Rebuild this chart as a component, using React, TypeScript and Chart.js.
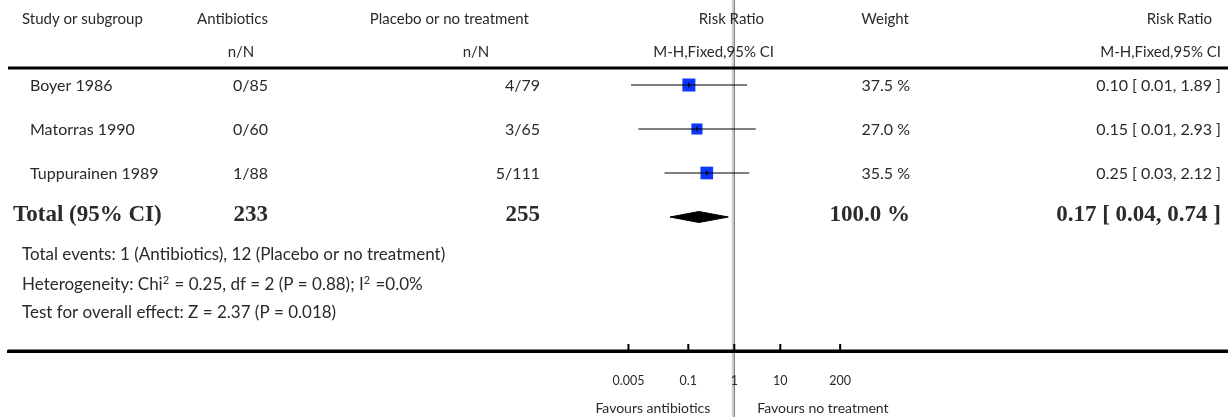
import React, { useEffect, useRef } from 'react';
import { Chart, registerables } from 'chart.js';

Chart.register(...registerables);

// ---------------- data ----------------
const studies = ['Boyer 1986', 'Matorras 1990', 'Tuppurainen 1989'];
const antibioticsEvents = ['0/85', '0/60', '1/88'];
const placeboEvents = ['4/79', '3/65', '5/111'];
const weights = [37.5, 27.0, 35.5];
const riskRatios = [0.103, 0.154, 0.252];
const ciLower = [0.0057, 0.0082, 0.0303];
const ciUpper = [1.89, 2.93, 2.12];

const totalLabel = 'Total (95% CI)';
const totalAntibiotics = 233;
const totalPlacebo = 255;
const totalWeight = 100.0;
const totalRR = 0.17;
const totalLower = 0.04;
const totalUpper = 0.74;

const tickValues = [0.005, 0.1, 1, 10, 200];
const tickLabels = ['0.005', '0.1', '1', '10', '200'];
const favoursLeft = 'Favours antibiotics';
const favoursRight = 'Favours no treatment';

const totalEventsText = 'Total events: 1 (Antibiotics), 12 (Placebo or no treatment)';
const heterogeneityParts = ['Heterogeneity: Chi', '2', ' = 0.25, df = 2 (P = 0.88); I', '2', ' =0.0%'];
const overallEffectText = 'Test for overall effect: Z = 2.37 (P = 0.018)';

// ---------------- layout ----------------
const W = 1228;
const H = 417;
const AREA_LEFT = 8;
const AXIS_Y = 351;
const NULL_X = 734.3;
const DECADE_PX = 46;
const X_MIN = Math.pow(10, -(NULL_X - AREA_LEFT) / DECADE_PX);
const X_MAX = Math.pow(10, (W - NULL_X) / DECADE_PX);
const FIRST_ROW_Y = 85;
const ROW_STEP = 44;
const Y_MIN = -FIRST_ROW_Y / ROW_STEP;
const Y_MAX = (AXIS_Y - FIRST_ROW_Y) / ROW_STEP;
const DIAMOND_HALF = 5.5 / ROW_STEP;
const MAX_SQUARE_RADIUS = 9.2;

const REG = '"Lato", "Open Sans", sans-serif';
const BOLD = '"Liberation Serif", "DejaVu Serif", serif';
const TEXT_COLOR = '#2a2a2a';

const fmt2 = (v: number) => v.toFixed(2);

export default function App() {
  const canvasRef = useRef<HTMLCanvasElement | null>(null);

  useEffect(() => {
    if (!canvasRef.current) return;
    const maxW = Math.max(...weights);
    const totalRow = studies.length;

    const ciDatasets = studies.map((s, i) => ({
      label: s + ' CI',
      data: [
        { x: ciLower[i], y: i },
        { x: riskRatios[i], y: i },
        { x: ciUpper[i], y: i },
      ],
      showLine: true,
      borderColor: '#000',
      borderWidth: 1,
      pointRadius: [0, 2.5, 0],
      pointStyle: 'line',
      pointRotation: 90,
      pointBorderColor: '#000',
      pointBorderWidth: 1.2,
      order: 0,
    }));

    const squareDataset = {
      label: 'Studies',
      data: riskRatios.map((v, i) => ({ x: v, y: i })),
      pointStyle: 'rect',
      pointRadius: weights.map((w) => MAX_SQUARE_RADIUS * Math.sqrt(w / maxW)),
      backgroundColor: '#0d37ff',
      borderColor: '#0d37ff',
      borderWidth: 0,
      order: 1,
    };

    const diamondDataset = {
      label: 'Total',
      data: [
        { x: totalLower, y: totalRow },
        { x: totalRR, y: totalRow - DIAMOND_HALF },
        { x: totalUpper, y: totalRow },
        { x: totalRR, y: totalRow + DIAMOND_HALF },
        { x: totalLower, y: totalRow },
      ],
      showLine: true,
      fill: 'shape',
      backgroundColor: '#000',
      borderColor: '#000',
      borderWidth: 1,
      pointRadius: 0,
      tension: 0,
      order: 0,
    };

    const txt = (
      ctx: CanvasRenderingContext2D,
      s: string,
      x: number,
      y: number,
      align: CanvasTextAlign,
      font: string,
    ) => {
      ctx.font = font;
      ctx.textAlign = align;
      ctx.textBaseline = 'middle';
      ctx.fillStyle = TEXT_COLOR;
      ctx.fillText(s, x, y);
    };

    const forestPlugin = {
      id: 'forestDecor',
      beforeDraw(chart: any) {
        const ctx = chart.ctx as CanvasRenderingContext2D;
        const xs = chart.scales.x;
        const nx = xs.getPixelForValue(1);
        ctx.save();
        ctx.strokeStyle = '#d4d4d4';
        ctx.lineWidth = 2;
        ctx.beginPath();
        ctx.moveTo(nx - 1.6, 0);
        ctx.lineTo(nx - 1.6, H);
        ctx.stroke();
        ctx.strokeStyle = '#7a7a7a';
        ctx.lineWidth = 1.2;
        ctx.beginPath();
        ctx.moveTo(nx, 0);
        ctx.lineTo(nx, H);
        ctx.stroke();
        ctx.restore();
      },
      afterDatasetsDraw(chart: any) {
        const ctx = chart.ctx as CanvasRenderingContext2D;
        const xs = chart.scales.x;
        ctx.save();
        ctx.strokeStyle = '#000';
        ctx.lineWidth = 2;
        tickValues.forEach((v) => {
          const px = xs.getPixelForValue(v);
          ctx.beginPath();
          ctx.moveTo(px, AXIS_Y - 7);
          ctx.lineTo(px, AXIS_Y);
          ctx.stroke();
        });
        ctx.restore();
      },
      afterDraw(chart: any) {
        const ctx = chart.ctx as CanvasRenderingContext2D;
        const ys = chart.scales.y;
        const xs = chart.scales.x;
        const nx = xs.getPixelForValue(1);
        ctx.save();
        // header rule
        ctx.strokeStyle = '#000';
        ctx.lineWidth = 3;
        ctx.beginPath();
        ctx.moveTo(AREA_LEFT, 68);
        ctx.lineTo(W, 68);
        ctx.stroke();

        const fh = `400 15px ${REG}`;
        const fr = `400 16px ${REG}`;
        const h1 = 19;
        const h2 = 52;
        txt(ctx, 'Study or subgroup', 22, h1, 'left', fh);
        txt(ctx, 'Antibiotics', 268, h1, 'right', fh);
        txt(ctx, 'n/N', 241, h2, 'center', fh);
        txt(ctx, 'Placebo or no treatment', 529, h1, 'right', fh);
        txt(ctx, 'n/N', 476, h2, 'center', fh);
        txt(ctx, 'Risk Ratio', 764, h1, 'right', fh);
        txt(ctx, 'M-H,Fixed,95% CI', 774, h2, 'right', fh);
        txt(ctx, 'Weight', 909, h1, 'right', fh);
        txt(ctx, 'Risk Ratio', 1212, h1, 'right', fh);
        txt(ctx, 'M-H,Fixed,95% CI', 1221, h2, 'right', fh);

        studies.forEach((s, i) => {
          const y = ys.getPixelForValue(i) + 1;
          txt(ctx, s, 30, y, 'left', fr);
          txt(ctx, antibioticsEvents[i], 268, y, 'right', fr);
          txt(ctx, placeboEvents[i], 540, y, 'right', fr);
          txt(ctx, weights[i].toFixed(1) + ' %', 910, y, 'right', fr);
          txt(
            ctx,
            `${fmt2(riskRatios[i])} [ ${fmt2(ciLower[i])}, ${fmt2(ciUpper[i])} ]`,
            1221,
            y,
            'right',
            fr,
          );
        });

        const fb = `700 23px ${BOLD}`;
        const ty = ys.getPixelForValue(totalRow) - 2;
        txt(ctx, totalLabel, 13, ty, 'left', fb);
        txt(ctx, String(totalAntibiotics), 268, ty, 'right', fb);
        txt(ctx, String(totalPlacebo), 540, ty, 'right', fb);
        txt(ctx, totalWeight.toFixed(1) + ' %', 910, ty, 'right', fb);
        txt(ctx, `${fmt2(totalRR)} [ ${fmt2(totalLower)}, ${fmt2(totalUpper)} ]`, 1221, ty, 'right', fb);

        // footnotes
        const ff = `400 17px ${REG}`;
        txt(ctx, totalEventsText, 22, 255, 'left', ff);
        let hx = 22;
        heterogeneityParts.forEach((p, k) => {
          const sup = k % 2 === 1;
          const font = sup ? `400 11px ${REG}` : ff;
          txt(ctx, p, hx, sup ? 280 : 285, 'left', font);
          ctx.font = font;
          hx += ctx.measureText(p).width + (sup ? 1 : 0);
        });
        txt(ctx, overallEffectText, 22, 313, 'left', ff);

        // bottom rule across the page
        ctx.strokeStyle = '#000';
        ctx.lineWidth = 3;
        ctx.beginPath();
        ctx.moveTo(AREA_LEFT, AXIS_Y);
        ctx.lineTo(W, AXIS_Y);
        ctx.stroke();

        const ffav = `400 14px ${REG}`;
        txt(ctx, favoursLeft, nx - 24, 408, 'right', ffav);
        txt(ctx, favoursRight, nx + 23, 408, 'left', ffav);
        ctx.restore();
      },
    };

    const chart = new Chart(canvasRef.current, {
      type: 'scatter',
      data: { datasets: [...ciDatasets, squareDataset, diamondDataset] as any },
      options: {
        animation: false,
        responsive: false,
        maintainAspectRatio: false,
        layout: { autoPadding: false, padding: { left: AREA_LEFT, right: 0, top: 0, bottom: 0 } },
        plugins: {
          legend: { display: false },
          tooltip: { enabled: false },
          title: { display: false },
        },
        scales: {
          x: {
            type: 'logarithmic',
            position: 'bottom',
            min: X_MIN,
            max: X_MAX,
            afterBuildTicks: (scale: any) => {
              scale.ticks = tickValues.map((v) => ({ value: v }));
            },
            afterFit: (scale: any) => {
              scale.height = H - AXIS_Y;
              scale.paddingLeft = 0;
              scale.paddingRight = 0;
              scale.paddingTop = 0;
              scale.paddingBottom = 0;
            },
            grid: { display: true, drawOnChartArea: false, drawTicks: false },
            border: { display: true, color: '#000', width: 3 },
            ticks: {
              autoSkip: false,
              maxRotation: 0,
              padding: 22,
              color: TEXT_COLOR,
              font: { family: REG, size: 12.5 },
              callback: (value: any) => {
                const idx = tickValues.indexOf(Number(value));
                return idx >= 0 ? tickLabels[idx] : '';
              },
            },
          },
          y: {
            type: 'linear',
            display: false,
            reverse: true,
            min: Y_MIN,
            max: Y_MAX,
          },
        },
      } as any,
      plugins: [forestPlugin],
    });

    return () => chart.destroy();
  }, []);

  return (
    <div style={{ position: 'absolute', left: 0, top: 0, width: W, height: H, background: '#fff' }}>
      <canvas ref={canvasRef} width={W} height={H} style={{ display: 'block' }} />
    </div>
  );
}
